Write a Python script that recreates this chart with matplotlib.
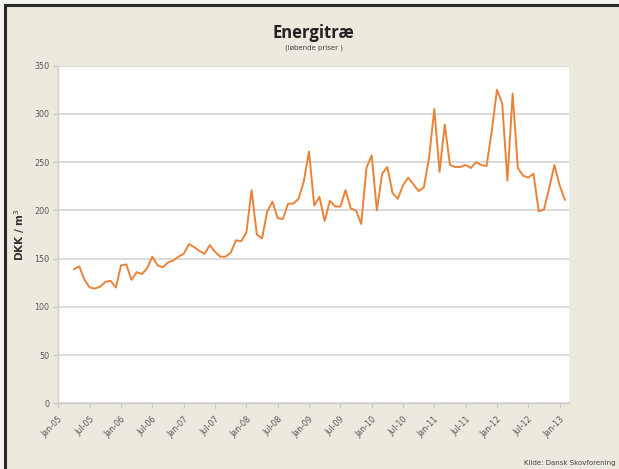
import matplotlib
matplotlib.use("Agg")
import matplotlib.pyplot as plt
from matplotlib.patches import Rectangle
from matplotlib.lines import Line2D

# Month index: 0 = Jan-05
start_month = 3  # Apr-05
prices = [139, 142, 128, 120, 119, 121, 126, 127, 120, 143, 144, 128, 136, 134, 140,
          152, 143, 141, 146, 148, 152, 155, 165, 162, 158, 155, 164, 157, 152, 152,
          156, 169, 168, 177, 221, 175, 171, 199, 209, 192, 191, 207, 207, 212, 230,
          261, 205, 214, 189, 210, 204, 204, 221, 202, 200, 186, 244, 257, 200, 238,
          245, 218, 212, 226, 234, 227, 220, 224, 255, 305, 240, 289, 247, 245, 245,
          247, 244, 250, 247, 246, 282, 325, 311, 231, 321, 244, 236, 234, 238, 199,
          201, 223, 247, 226, 211]
months = list(range(start_month, start_month + len(prices)))

tick_months = list(range(0, 97, 6))
tick_labels = ["Jan-05", "Jul-05", "Jan-06", "Jul-06", "Jan-07", "Jul-07", "Jan-08",
               "Jul-08", "Jan-09", "Jul-09", "Jan-10", "Jul-10", "Jan-11", "Jul-11",
               "Jan-12", "Jul-12", "Jan-13"]
y_ticks = [0, 50, 100, 150, 200, 250, 300, 350]

bg = "#ECE9DE"
W, H = 619, 469
fig = plt.figure(figsize=(6.19, 4.69), dpi=100)
fig.patch.set_facecolor(bg)
# light outer margin and dark frame on top/left
fig.add_artist(Rectangle((0, 1 - 4 / H), 1, 4 / H, transform=fig.transFigure,
                         facecolor="#F4F3EF", edgecolor="none"))
fig.add_artist(Rectangle((0, 0), 4 / W, 1, transform=fig.transFigure,
                         facecolor="#F4F3EF", edgecolor="none"))
fig.add_artist(Line2D([5 / W, 1], [1 - 5 / H, 1 - 5 / H], transform=fig.transFigure,
                      color="#2a2a2a", lw=2.2))
fig.add_artist(Line2D([5 / W, 5 / W], [0, 1 - 5 / H], transform=fig.transFigure,
                      color="#2a2a2a", lw=2.2))

ax = fig.add_axes([58.4 / W, 1 - 403.3 / H, (568.5 - 58.4) / W, (403.3 - 65.7) / H])
ax.set_facecolor("white")
ax.plot(months, prices, color="#EA8337", lw=1.4, zorder=3)
ax.set_xlim(0, 97.7)
ax.set_ylim(0, 350)
ax.set_yticks(y_ticks)
ax.set_yticklabels([str(v) for v in y_ticks])
ax.set_xticks(tick_months)
ax.set_xticklabels(tick_labels, rotation=45, ha="right", rotation_mode="anchor")
ax.grid(axis="y", color="#DADADA", lw=1.4)
ax.set_axisbelow(True)
for s in ["top", "right"]:
    ax.spines[s].set_visible(False)
for s in ["left", "bottom"]:
    ax.spines[s].set_color("#CFCFCF")
    ax.spines[s].set_linewidth(1.0)
ax.tick_params(axis="both", colors="#C8C8C8", length=3.5, width=0.9, labelsize=5.8,
               labelcolor="#5a5a5a")
ax.tick_params(axis="y", pad=3)
ax.tick_params(axis="x", pad=5)

ax.set_ylabel("DKK / m$^3$", fontsize=7.5, fontweight="bold", color="#333333")
ax.yaxis.set_label_coords(-0.062, 0.5)

fig.text(0.507, 1 - 33 / H, "Energitræ", ha="center", va="center", fontsize=12,
         fontweight="bold", color="#222222", family="Open Sans")
fig.text(0.507, 1 - 48 / H, "(løbende priser )", ha="center", va="center", fontsize=5,
         color="#444444")
fig.text(524 / W, 1 - 463 / H, "Kilde: Dansk Skovforening", ha="left", va="center",
         fontsize=5, color="#444444")

fig.savefig("out.png", dpi=100, facecolor=fig.get_facecolor())
